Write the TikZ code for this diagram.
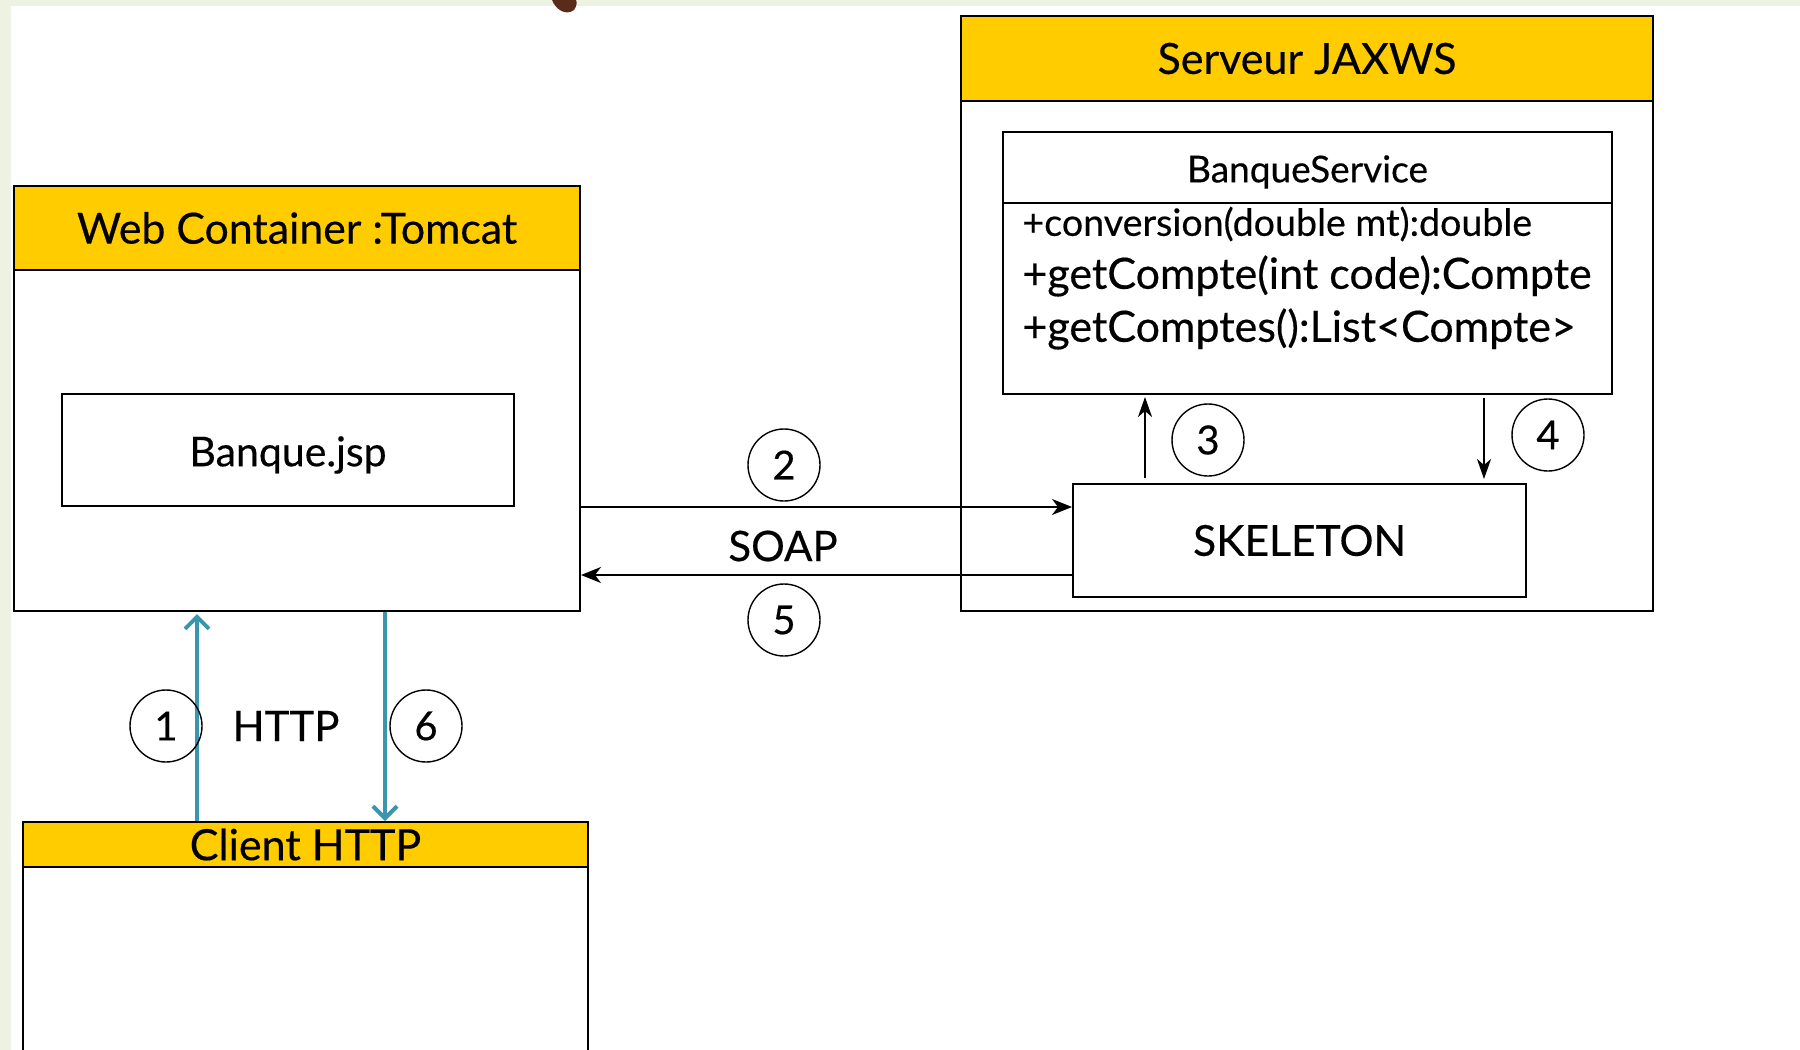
\documentclass[tikz,border=0pt]{standalone}
\usepackage{fontspec}
\setmainfont{Lato}[FakeBold=0.4]
\usetikzlibrary{arrows.meta}
\definecolor{hdr}{HTML}{FFCC00}
\definecolor{httpblue}{HTML}{3A96AD}
\definecolor{slidebg}{HTML}{EEF2E2}
\definecolor{blob}{HTML}{5A2A1A}
\tikzset{
  box/.style={draw, line width=1pt, inner sep=0pt, rectangle},
  hdrbox/.style={box, fill=hdr},
  num/.style={draw, circle, line width=0.7pt, minimum size=36pt, inner sep=0pt, font=\fontsize{20}{22}\selectfont},
  msg/.style={line width=0.9pt, -{Stealth[length=10pt, width=8pt, inset=3pt]}},
  small/.style={line width=0.9pt, -{Stealth[length=10pt, width=7pt, inset=3pt]}},
  httparrow/.style={draw=httpblue, line width=2pt, -{Straight Barb[length=6pt, width=12pt, line width=2pt]}},
}
\begin{document}
\begin{tikzpicture}[x=0.5pt, y=-0.5pt]
  % slide background
  \fill[slidebg] (0,0) rectangle (1800,1050);
  \fill[white] (11,6) rectangle (1800,1050);
  \useasboundingbox (0,0) rectangle (1800,1050);
  \fill[blob] (552,0) .. controls (556,10) and (566,16) .. (574,10) .. controls (577,6) and (577,2) .. (576,0) -- cycle;
  \clip (0,0) rectangle (1800,1050);

  % Web container
  \node[box, minimum width=283pt, minimum height=212.5pt] (web) at (297,398.5) {};
  \node[hdrbox, minimum width=283pt, minimum height=42pt, font=\fontsize{21.4}{24}\selectfont] (webhdr) at (297,228) {Web Container :Tomcat};
  \node[box, minimum width=226pt, minimum height=56pt] (jsp) at (288,450) {};
  \node[font=\fontsize{20.5}{24}\selectfont] (jsptext) at (288,455) {Banque.jsp};

  % JAX-WS server
  \node[box, minimum width=346pt, minimum height=297.5pt] (srv) at (1307,313.5) {};
  \node[hdrbox, minimum width=346pt, minimum height=42.5pt, font=\fontsize{21.5}{24}\selectfont] (srvhdr) at (1307,58.5) {Serveur JAXWS};

  % BanqueService class
  \node[box, minimum width=304.5pt, minimum height=131pt] (svc) at (1307.5,263) {};
  \draw[line width=1pt] (svc.west |- 0,203) -- (svc.east |- 0,203);
  \node[font=\fontsize{18.5}{20}\selectfont] (svcname) at (1307.5,172) {BanqueService};
  \node[anchor=west, inner sep=0pt, font=\fontsize{18.8}{20}\selectfont] (m1) at (1022,224) {+conversion(double mt):double};
  \node[anchor=west, inner sep=0pt, font=\fontsize{21.5}{24}\selectfont] (m2) at (1022,276) {+getCompte(int code):Compte};
  \node[anchor=west, inner sep=0pt, font=\fontsize{21.5}{24}\selectfont] (m3) at (1022,329) {+getComptes():List<Compte>};

  % Skeleton
  \node[box, minimum width=226.5pt, minimum height=56.5pt, font=\fontsize{21.3}{24}\selectfont] (skel) at (1299.5,540.5) {SKELETON};

  % Client
  \node[box, minimum width=282.5pt, minimum height=130pt, anchor=north] (cli) at (305.5,822) {};
  \node[hdrbox, minimum width=282.5pt, minimum height=22.5pt, font=\fontsize{21.5}{22}\selectfont] (clihdr) at (305.5,844.5) {Client HTTP};

  % SOAP exchange
  \coordinate (y2) at (0,507);
  \coordinate (y5) at (0,575);
  \draw[msg] (web.east |- y2) -- (skel.west |- y2);
  \draw[msg] (skel.west |- y5) -- (web.east |- y5);
  \node[font=\fontsize{21}{24}\selectfont] (soap) at (783,546) {SOAP};
  \node[num] (n2) at (784,465) {2};
  \node[num] (n5) at (784,620) {5};

  % skeleton <-> service
  \coordinate (x3) at (1145,0);
  \coordinate (x4) at (1484,0);
  \draw[small] ([yshift=2.5pt]skel.north -| x3) -- ([yshift=-1pt]svc.south -| x3);
  \draw[small] ([yshift=-1.5pt]svc.south -| x4) -- ([yshift=2pt]skel.north -| x4);
  \node[num] (n3) at (1208,440) {3};
  \node[num] (n4) at (1548,435) {4};

  % HTTP exchange
  \coordinate (x1) at (197,0);
  \coordinate (x6) at (385,0);
  \draw[httparrow] (clihdr.north -| x1) -- ([yshift=-1pt]web.south -| x1);
  \draw[httparrow] (web.south -| x6) -- (clihdr.north -| x6);
  \node[num] (n1) at (166,726) {1};
  \node[num] (n6) at (426,726) {6};
  \node[font=\fontsize{21}{24}\selectfont] (http) at (286,726) {HTTP};
\end{tikzpicture}
\end{document}
